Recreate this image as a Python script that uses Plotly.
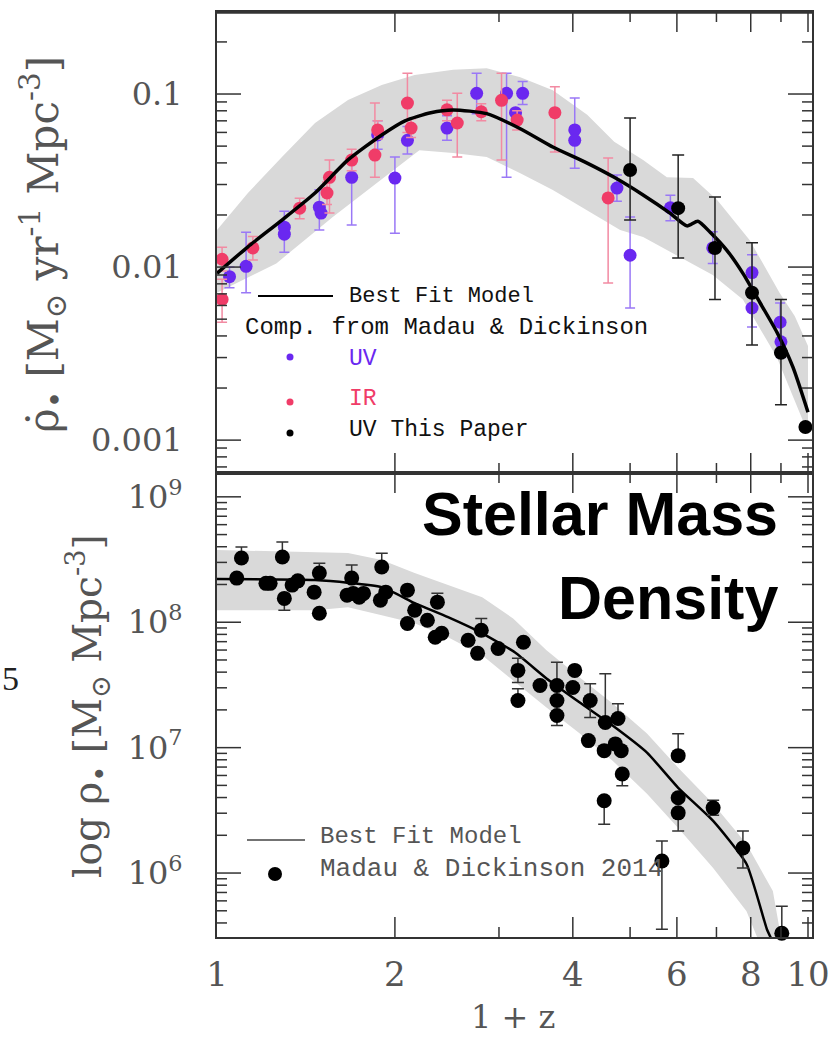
import numpy as np
import plotly.graph_objects as go

# ---------------- Star-formation-rate density (upper panel) ----------------
# Madau & Dickinson compilation, UV measurements
uv_x = [1.05, 1.12, 1.30, 1.30, 1.49, 1.50, 1.69, 1.87, 2.00, 2.10, 2.45, 2.75, 3.09,
        3.20, 3.29, 4.03, 4.03, 4.75, 5.00, 5.85, 6.90, 8.04, 8.04, 8.97, 9.00]
uv_y = [0.0088, 0.0101, 0.0170, 0.0155, 0.0222, 0.0205, 0.0330, 0.0580, 0.0327, 0.0540,
        0.0636, 0.1010, 0.1010, 0.0780, 0.1010, 0.0620, 0.0540, 0.0286, 0.0117, 0.0220,
        0.0129, 0.0093, 0.0058, 0.0048, 0.0037]
uv_hi = [0.0100, 0.0159, 0.0210, 0.0155, 0.0280, 0.0205, 0.0420, 0.0700, 0.0433, 0.0650,
         0.0750, 0.1320, 0.1320, 0.0780, 0.1180, 0.0948, 0.0540, 0.0340, 0.0195, 0.0260,
         0.0160, 0.0118, 0.0070, 0.0062, 0.0046]
uv_lo = [0.0076, 0.0071, 0.0122, 0.0155, 0.0164, 0.0205, 0.0175, 0.0480, 0.0157, 0.0450,
         0.0540, 0.0770, 0.0330, 0.0780, 0.0870, 0.0373, 0.0540, 0.0240, 0.0058, 0.0185,
         0.0105, 0.0075, 0.0045, 0.0038, 0.0030]

# Madau & Dickinson compilation, IR measurements
ir_x = [1.02, 1.02, 1.15, 1.38, 1.535, 1.55, 1.69, 1.85, 1.87, 2.10, 2.13, 2.45, 2.55,
        2.80, 3.03, 3.22, 3.73, 4.59]
ir_y = [0.0111, 0.0065, 0.0129, 0.0219, 0.0268, 0.0330, 0.0415, 0.0444, 0.0620, 0.0887,
        0.0636, 0.0810, 0.0680, 0.0790, 0.0920, 0.0707, 0.0780, 0.0251]
ir_hi = [0.0130, 0.0085, 0.0150, 0.0250, 0.0310, 0.0415, 0.0480, 0.0887, 0.0700, 0.1320,
         0.0720, 0.0920, 0.1010, 0.0880, 0.1320, 0.0800, 0.1100, 0.0427]
ir_lo = [0.0095, 0.0048, 0.0110, 0.0190, 0.0230, 0.0205, 0.0360, 0.0330, 0.0550, 0.0600,
         0.0560, 0.0700, 0.0433, 0.0700, 0.0415, 0.0620, 0.0462, 0.0081]

# UV measurements from this paper
new_x = [5.00, 6.03, 6.96, 8.04, 9.00, 9.90]
new_y = [0.0364, 0.0219, 0.0129, 0.0071, 0.0032, 0.00119]
new_hi = [0.0726, 0.0444, 0.0254, 0.0138, 0.0065, 0.00119]
new_lo = [0.0187, 0.0113, 0.0065, 0.00355, 0.0016, 0.00119]

# best-fit SFRD model and its uncertainty envelope
sfr_model_x = [1.0, 1.128, 1.288, 1.465, 1.666, 1.90, 2.08, 2.30, 2.51, 2.86, 3.26, 3.70,
               4.23, 4.70, 5.26, 5.84, 6.24, 6.51, 6.83, 7.29, 7.76, 8.30, 8.86,
               9.43, 10.0]
sfr_model_y = [0.0092, 0.0131, 0.0187, 0.0268, 0.0416, 0.0580, 0.0700, 0.0780, 0.0809,
               0.0770, 0.0630, 0.0494, 0.0399, 0.0330, 0.0261, 0.0205, 0.0173,
               0.0184, 0.0159, 0.0125, 0.0092, 0.0062, 0.0042, 0.00264, 0.00145]
sfr_band_up_x = [1.0, 1.128, 1.288, 1.465, 1.666, 1.90, 2.16, 2.51, 2.86, 3.26, 3.70,
                 4.23, 4.70, 5.26, 5.77, 6.39, 7.02, 7.97, 8.95, 9.50, 10.0]
sfr_band_up_y = [0.0164, 0.0268, 0.0432, 0.0679, 0.0923, 0.1127, 0.1288, 0.1380, 0.1410,
                 0.1250, 0.1050, 0.0760, 0.0530, 0.0415, 0.0330, 0.0327, 0.0244, 0.0143,
                 0.0071, 0.0052, 0.0035]
sfr_band_lo_x = [1.0, 1.26, 1.57, 1.89, 2.20, 2.51, 2.86, 3.26, 3.70, 4.23, 4.81, 5.26,
                 5.99, 6.90, 7.76, 8.86, 10.0]
sfr_band_lo_y = [0.0071, 0.0105, 0.0195, 0.0318, 0.0474, 0.0456, 0.0432, 0.0349, 0.0279,
                 0.0213, 0.0164, 0.0149, 0.0117, 0.0090, 0.0065, 0.0030, 0.0011]

# ---------------- Stellar mass density (lower panel), log10 values ----------------
smd_x = [1.10, 1.08, 1.29, 1.21, 1.23, 1.30, 1.34, 1.37, 1.49, 1.46, 1.49, 1.69, 1.66,
         1.70, 1.74, 1.77, 1.90, 1.89, 1.93, 2.10, 2.10, 2.16, 2.27, 2.36, 2.40, 2.34,
         2.66, 2.76, 2.80, 2.99, 3.30, 3.23, 3.23, 3.52, 3.76, 3.76, 3.76, 4.03, 4.00,
         4.28, 4.25, 4.54, 4.52, 4.52, 4.77, 4.72, 4.83, 4.85, 5.66, 6.03, 6.03, 6.03,
         6.91, 7.76, 9.03]
smd_log = [8.512, 8.352, 8.520, 8.310, 8.310, 8.190, 8.296, 8.330, 8.392, 8.240, 8.072,
           8.352, 8.216, 8.230, 8.200, 8.230, 8.440, 8.176, 8.240, 8.256, 7.990, 8.096,
           8.016, 8.160, 7.912, 7.880, 7.856, 7.752, 7.936, 7.790, 7.840, 7.616, 7.376,
           7.496, 7.496, 7.376, 7.256, 7.616, 7.480, 7.376, 7.056, 7.200, 6.976, 6.576,
           7.232, 7.030, 6.976, 6.790, 6.096, 6.936, 6.600, 6.480, 6.520, 6.200, 5.520]
smd_log_hi = [8.600, 8.352, 8.640, 8.310, 8.310, 8.190, 8.296, 8.330, 8.470, 8.240, 8.072,
              8.456, 8.216, 8.230, 8.200, 8.230, 8.550, 8.176, 8.240, 8.256, 7.990, 8.096,
              8.016, 8.232, 7.912, 7.880, 7.856, 7.752, 8.030, 7.790, 7.840, 7.712, 7.470,
              7.496, 7.680, 7.376, 7.256, 7.616, 7.480, 7.510, 7.056, 7.590, 6.976, 6.576,
              7.350, 7.030, 6.976, 6.790, 6.256, 7.110, 6.600, 6.480, 6.580, 6.336, 5.736]
smd_log_lo = [8.512, 8.352, 8.520, 8.310, 8.310, 8.096, 8.296, 8.330, 8.392, 8.240, 8.072,
              8.352, 8.216, 8.230, 8.200, 8.230, 8.440, 8.176, 8.240, 8.256, 7.990, 8.096,
              8.016, 8.160, 7.912, 7.880, 7.856, 7.752, 7.936, 7.790, 7.840, 7.520, 7.376,
              7.496, 7.496, 7.376, 7.176, 7.616, 7.480, 7.240, 7.056, 7.200, 6.976, 6.390,
              7.232, 7.030, 6.976, 6.696, 5.552, 6.936, 6.600, 6.336, 6.460, 6.040, 5.520]

smd_model_x = [1.0, 1.465, 1.90, 2.16, 2.46, 2.81, 3.19, 3.61, 4.11, 4.67, 5.34, 6.03,
               6.91, 7.87, 8.52, 8.66]
smd_model_log = [8.344, 8.336, 8.280, 8.152, 8.040, 7.912, 7.760, 7.552, 7.360, 7.176,
                 6.960, 6.680, 6.416, 6.072, 5.552, 5.480]
smd_band_up_x = [1.0, 1.465, 1.666, 1.90, 2.16, 2.46, 2.81, 3.17, 3.61, 4.11, 4.67, 5.34,
                 6.03, 6.91, 7.87, 8.72, 9.0]
smd_band_up_log = [8.576, 8.560, 8.552, 8.496, 8.392, 8.296, 8.200, 8.030, 7.776, 7.560,
                   7.352, 7.112, 6.840, 6.552, 6.232, 5.856, 5.490]
smd_band_lo_x = [1.0, 1.465, 1.666, 1.90, 2.16, 2.46, 2.81, 3.17, 3.61, 4.11, 4.67, 5.34,
                 6.03, 6.91, 7.87, 8.20]
smd_band_lo_log = [8.096, 8.096, 8.120, 8.056, 7.992, 7.880, 7.736, 7.536, 7.320, 7.112,
                   6.896, 6.632, 6.360, 6.040, 5.696, 5.490]

# ---------------- axes / tick labels ----------------
x_tickvals = [1, 2, 4, 6, 8, 10]
x_ticktext = ["1", "2", "4", "6", "8", "10"]
x_minorvals = [3, 5, 7, 9]
sfr_tickvals = [0.001, 0.01, 0.1]
sfr_ticktext = ["0.001", "0.01", "0.1"]
smd_tickvals = [1e6, 1e7, 1e8, 1e9]
smd_ticktext = ["10<sup>6</sup>", "10<sup>7</sup>", "10<sup>8</sup>", "10<sup>9</sup>"]

# colours
C_UV, C_UV_ERR = "#6a28f0", "#9a78f6"
C_IR, C_IR_ERR = "#f03c68", "#f28aa2"
C_BAND = "#d9d9d9"
C_TEXT = "#555555"
C_AX = "#333333"

# page geometry (pixels)
FIG_W, FIG_H = 837, 1037
L, R, T, MID, B = 217, 812, 12, 473, 937
W, H = R - L, B - T
split = (B - MID) / H
X_RANGE = [0, np.log10(10) * W / 591]
SFR_RANGE = [-3.19, -0.526]
SMD_RANGE = [5.49, 9.19]


def fx(p):
    return (p - L) / W


def fy(p):
    return (B - p) / H


def err(y, hi, lo):
    return dict(type="data", symmetric=False,
                array=[h - v for v, h in zip(y, hi)],
                arrayminus=[v - l for v, l in zip(y, lo)])


def unlog(vals):
    return [10 ** v for v in vals]


def minor_decades(lo_exp, hi_exp):
    vals = [m * 10.0 ** d for d in range(int(np.floor(lo_exp)), int(np.ceil(hi_exp)))
            for m in range(2, 10)]
    return [v for v in vals if lo_exp < np.log10(v) < hi_exp]


fig = go.Figure()

# ---- upper panel ----
fig.add_trace(go.Scatter(
    x=sfr_band_up_x + sfr_band_lo_x[::-1], y=sfr_band_up_y + sfr_band_lo_y[::-1],
    fill="toself", fillcolor=C_BAND, line=dict(width=0), mode="lines",
    hoverinfo="skip", xaxis="x", yaxis="y"))

for xs, ys, hi, lo, col, ecol in [(uv_x, uv_y, uv_hi, uv_lo, C_UV, C_UV_ERR),
                                  (ir_x, ir_y, ir_hi, ir_lo, C_IR, C_IR_ERR)]:
    e = err(ys, hi, lo)
    e.update(color=ecol, thickness=1.5, width=5)
    fig.add_trace(go.Scatter(x=xs, y=ys, mode="markers", error_y=e,
                             marker=dict(color=col, size=13),
                             cliponaxis=False, xaxis="x", yaxis="y"))

fig.add_trace(go.Scatter(x=sfr_model_x, y=sfr_model_y, mode="lines",
                         line=dict(color="black", width=3.5, shape="spline", smoothing=0.6),
                         xaxis="x", yaxis="y"))

e = err(new_y, new_hi, new_lo)
e.update(color="#222", thickness=1.5, width=6)
fig.add_trace(go.Scatter(x=new_x, y=new_y, mode="markers", error_y=e,
                         marker=dict(color="black", size=14),
                         cliponaxis=False, xaxis="x", yaxis="y"))

# ---- lower panel ----
fig.add_trace(go.Scatter(
    x=smd_band_up_x + smd_band_lo_x[::-1],
    y=unlog(smd_band_up_log + smd_band_lo_log[::-1]),
    fill="toself", fillcolor=C_BAND, line=dict(width=0), mode="lines",
    hoverinfo="skip", xaxis="x2", yaxis="y2"))

fig.add_trace(go.Scatter(x=smd_model_x, y=unlog(smd_model_log), mode="lines",
                         line=dict(color="black", width=2.5, shape="spline", smoothing=0.5),
                         xaxis="x2", yaxis="y2"))

smd_y = unlog(smd_log)
e = err(smd_y, unlog(smd_log_hi), unlog(smd_log_lo))
e.update(color="#333", thickness=1.5, width=6)
fig.add_trace(go.Scatter(x=smd_x, y=smd_y, mode="markers", error_y=e,
                         marker=dict(color="black", size=15),
                         cliponaxis=False, xaxis="x2", yaxis="y2"))

# ---- axes (tick marks are added below as line shapes) ----
frame = dict(showgrid=False, zeroline=False, showline=True, linecolor=C_AX, linewidth=2,
             mirror=True, ticks="")
tick_font = dict(family="DejaVu Serif", size=32, color=C_TEXT)

fig.update_layout(
    template="none",
    width=FIG_W, height=FIG_H,
    margin=dict(l=L, r=FIG_W - R, t=T, b=FIG_H - B),
    paper_bgcolor="white", plot_bgcolor="white", showlegend=False,
    xaxis=dict(frame, type="log", range=X_RANGE, domain=[0, 1], anchor="y",
               tickmode="array", tickvals=x_tickvals, showticklabels=False),
    xaxis2=dict(frame, type="log", range=X_RANGE, domain=[0, 1], anchor="y2",
                tickmode="array", tickvals=x_tickvals, ticktext=x_ticktext,
                tickfont=dict(tick_font, size=34), ticklabelstandoff=6),
    yaxis=dict(frame, type="log", range=SFR_RANGE, domain=[split, 1],
               anchor="x", tickmode="array", tickvals=sfr_tickvals, ticktext=sfr_ticktext,
               tickfont=tick_font, ticklabelstandoff=26),
    yaxis2=dict(frame, type="log", range=SMD_RANGE, domain=[0, split],
                anchor="x2", tickmode="array", tickvals=smd_tickvals, ticktext=smd_ticktext,
                tickfont=tick_font, ticklabelstandoff=26),
)

shapes = []
tick_line = dict(color=C_AX, width=1.5)


def y_ticks(yref, vals, length):
    # tick marks on the left and right frame edges of one panel
    for v in vals:
        for anchor, a, b in [(0, 0, length), (1, -length, 0)]:
            shapes.append(dict(type="line", xref="paper", xsizemode="pixel", xanchor=anchor,
                               x0=a, x1=b, yref=yref, y0=v, y1=v, line=tick_line))


def x_ticks(xref, vals, length, y_bottom, y_top):
    # tick marks on the bottom and top frame edges of one panel
    for v in vals:
        for anchor, a, b in [(y_bottom, 0, length), (y_top, -length, 0)]:
            shapes.append(dict(type="line", yref="paper", ysizemode="pixel", yanchor=anchor,
                               y0=a, y1=b, xref=xref, x0=v, x1=v, line=tick_line))


y_ticks("y", sfr_tickvals, 24)
y_ticks("y", minor_decades(*SFR_RANGE), 10)
y_ticks("y2", smd_tickvals, 24)
y_ticks("y2", minor_decades(*SMD_RANGE), 10)
x_ticks("x", x_tickvals[1:], 20, split, 1)
x_ticks("x", x_minorvals, 10, split, 1)
x_ticks("x2", x_tickvals[1:], 20, 0, split)
x_ticks("x2", x_minorvals, 10, 0, split)

# heavier top edge of the frame
shapes.append(dict(type="line", xref="paper", yref="paper", x0=0, x1=1, y0=1, y1=1,
                   line=dict(color=C_AX, width=3.5)))

ann = []
serif = "DejaVu Serif"
mono = "Liberation Mono"

# axis titles
ann.append(dict(text="1 + z", x=fx(513), y=fy(1017),
                font=dict(family=serif, size=32, color=C_TEXT)))
ann.append(dict(text="ρ\u0307<sub>\u2022</sub> [M<sub>\u2299</sub> yr<sup>-1</sup> Mpc<sup>-3</sup>]",
                x=fx(43), y=fy(245), textangle=-90,
                font=dict(family=serif, size=42, color=C_TEXT)))
ann.append(dict(text="log ρ<sub>\u2022</sub> [M<sub>\u2299</sub> Mpc<sup>-3</sup>]",
                x=fx(88), y=fy(706), textangle=-90,
                font=dict(family=serif, size=39, color=C_TEXT)))
ann.append(dict(text="5", x=fx(0), y=fy(678), xanchor="left",
                font=dict(family="Liberation Serif", size=34, color="#222")))

# panel heading
for txt, yc in [("Stellar Mass", 514), ("Density", 598)]:
    ann.append(dict(text=txt, x=fx(780), y=fy(yc), xanchor="right",
                    font=dict(family="Liberation Sans", size=61, color="black",
                              weight="bold")))

# upper legend
ann.append(dict(text="Best Fit Model", x=fx(347), y=fy(296), xanchor="left",
                font=dict(family=mono, size=22, color="#111")))
ann.append(dict(text="Comp. from Madau & Dickinson", x=fx(243), y=fy(328), xanchor="left",
                font=dict(family=mono, size=24, color="#111")))
for txt, yc, col in [("UV", 359, C_UV), ("IR", 399, C_IR), ("UV This Paper", 430, "#111")]:
    ann.append(dict(text=txt, x=fx(347), y=fy(yc), xanchor="left",
                    font=dict(family=mono, size=23, color=col)))

# lower legend
ann.append(dict(text="Best Fit Model", x=fx(318), y=fy(836), xanchor="left",
                font=dict(family=mono, size=24, color="#555")))
ann.append(dict(text="Madau & Dickinson 2014", x=fx(318), y=fy(869), xanchor="left",
                font=dict(family=mono, size=26, color="#555")))

for a in ann:
    a.update(xref="paper", yref="paper", showarrow=False)
    a.setdefault("xanchor", "center")
    a.setdefault("yanchor", "middle")

legend_shapes = [
    dict(type="line", x0=fx(258), x1=fx(333), y0=fy(296), y1=fy(296),
         line=dict(color="black", width=2)),
    dict(type="line", x0=fx(247), x1=fx(305), y0=fy(840), y1=fy(840),
         line=dict(color="#444", width=1.5)),
]
for xc, yc, col, r in [(290, 357, C_UV, 3.5), (290, 402, C_IR, 3.5), (290, 433, "black", 3.5),
                       (275, 874, "black", 7)]:
    legend_shapes.append(dict(type="circle", x0=fx(xc - r), x1=fx(xc + r), y0=fy(yc + r),
                              y1=fy(yc - r), fillcolor=col, line=dict(width=0)))
for s in legend_shapes:
    s.update(xref="paper", yref="paper")

fig.update_layout(annotations=ann, shapes=shapes + legend_shapes)
fig.write_html("out.html")
